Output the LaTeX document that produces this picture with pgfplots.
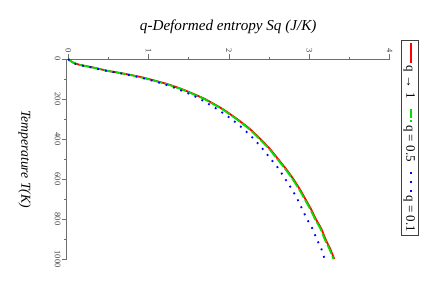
\documentclass[border=0pt]{standalone}
\usepackage{fontspec}
\setmainfont{Liberation Serif}
\usepackage{pgfplots}
\pgfplotsset{compat=1.18}
\definecolor{axgray}{RGB}{110,110,110}
\definecolor{qred}{RGB}{255,0,0}
\definecolor{qgreen}{RGB}{0,225,0}
\definecolor{qblue}{RGB}{0,0,255}
\newcommand{\redline}{\textcolor{qred}{\rule[0.28em]{20bp}{2.2bp}}}
\newcommand{\greenline}{\textcolor{qgreen}{\rule[0.28em]{9bp}{2.2bp}\hspace{2bp}\rule[0.28em]{2.2bp}{2.2bp}}}
\newcommand{\blueline}{\textcolor{qblue}{\rule[0.28em]{2bp}{2.2bp}\hspace{7bp}\rule[0.28em]{2bp}{2.2bp}\hspace{7bp}\rule[0.28em]{2bp}{2.2bp}}}
\begin{document}
\begin{tikzpicture}
\path[use as bounding box] (-66.7bp,59bp) rectangle (369.3bp,-230bp);
\begin{axis}[
  at={(0,0)}, anchor=north west,
  scale only axis, width=323bp, height=200bp,
  xmin=-0.02, xmax=4, ymin=0, ymax=1000,
  y dir=reverse,
  axis x line=top, axis y line=left,
  axis line style={-, draw=axgray, line width=0.8pt},
  tick style={axgray, line width=0.8pt},
  tick align=outside,
  major tick length=5bp, minor tick length=2.5bp,
  xtick={0,1,2,3,4}, ytick={0,200,400,600,800,1000},
  minor x tick num=1, minor y tick num=1,
  /pgf/number format/assume math mode=true,
  /pgf/number format/set thousands separator={},
  xticklabel style={rotate=-90, anchor=east, font=\fontsize{8.5}{9}\selectfont, text=black!75, inner sep=1bp},
  yticklabel style={rotate=-90, anchor=north, font=\fontsize{8.5}{9}\selectfont, text=black!75, inner sep=1bp},
  xlabel={q-Deformed entropy Sq (J/K)},
  xlabel style={at={(0.5,1.16)}, anchor=center, font=\itshape\fontsize{15.2}{17}\selectfont},
  ylabel={Temperature T(K)},
  ylabel style={at={(-0.13,0.5)}, rotate=180, anchor=center, font=\itshape\fontsize{13.7}{15}\selectfont},
  legend columns=1,
  legend image code/.code={},
  legend style={at={(1.09,1.095)}, anchor=north east,
    nodes={rotate=-90, inner sep=1.5bp},
    draw=black!75, line width=0.8pt, font=\fontsize{13}{15}\selectfont,
    row sep=7bp, inner xsep=2bp, inner ysep=1.5bp},
  clip=false,
]
\addplot[qred, line width=1.8bp, smooth, tension=0.3] coordinates {
(0,0) (0.01,5) (0.03,10) (0.07,20) (0.15,30) (0.28,40) (0.39,50) (0.50,60) (0.65,70) (0.78,80) (0.90,90)
(1.00,100) (1.23,125) (1.41,150) (1.56,175) (1.70,200) (1.92,250) (2.10,300) (2.26,350) (2.39,400)
(2.51,450) (2.61,500) (2.71,550) (2.80,600) (2.88,650) (2.95,700) (3.02,750) (3.08,800) (3.15,850)
(3.20,900) (3.26,950) (3.31,1000)};
\addlegendentry{\redline\hspace{2bp}q\hspace{0.3em}→\hspace{0.3em}1}
\addplot[qgreen, line width=1.8bp, smooth, tension=0.3, dash pattern=on 10bp off 2.5bp] coordinates {
(0,0) (0.01,5) (0.03,10) (0.07,20) (0.15,30) (0.28,40) (0.39,50) (0.50,60) (0.64,70) (0.77,80) (0.89,90)
(0.99,100) (1.22,125) (1.40,150) (1.55,175) (1.69,200) (1.91,250) (2.09,300) (2.25,350) (2.38,400)
(2.50,450) (2.60,500) (2.70,550) (2.79,600) (2.87,650) (2.94,700) (3.01,750) (3.07,800) (3.14,850)
(3.19,900) (3.25,950) (3.30,1000)};
\addlegendentry{\greenline\hspace{3bp}q = 0.5}
\addplot[qblue, line width=1.8bp, smooth, tension=0.3, dash pattern=on 1.8bp off 6bp] coordinates {
(0,0) (0.01,5) (0.03,10) (0.06,20) (0.14,30) (0.26,40) (0.37,50) (0.48,60) (0.63,70) (0.75,80) (0.87,90)
(0.97,100) (1.19,125) (1.36,150) (1.51,175) (1.64,200) (1.85,250) (2.03,300) (2.18,350) (2.31,400)
(2.42,450) (2.52,500) (2.62,550) (2.70,600) (2.78,650) (2.85,700) (2.91,750) (2.97,800) (3.04,850)
(3.09,900) (3.15,950) (3.19,1000)};
\addlegendentry{\blueline\hspace{4bp}q = 0.1}
\end{axis}
\end{tikzpicture}
\end{document}
